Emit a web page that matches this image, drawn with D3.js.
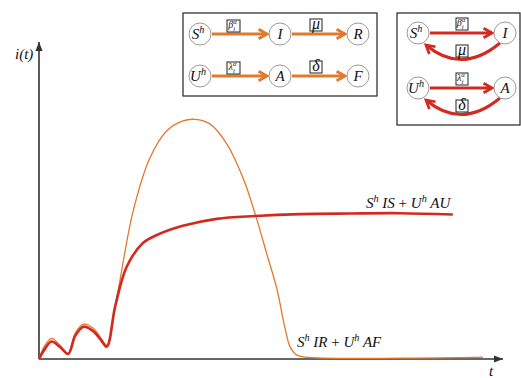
<!DOCTYPE html>
<html>
<head>
<meta charset="utf-8">
<script src="https://cdn.jsdelivr.net/npm/d3@7"></script>
<style>
    body { margin: 0; background: #fff; }
    svg { display: block; }
    text { font-family: "Times New Roman", "Liberation Serif", "DejaVu Serif", serif; font-style: italic; fill: #111; }
</style>
</head>
<body>
<svg id="chart" width="521" height="378"></svg>
<script>
// --- Data (time on x, infected fraction on y, both 0..100) ---
const orangeT = [0, 1.1, 2.7, 4.5, 6.3, 7.8, 9.6, 11.7, 13.2, 14.6, 16.8, 20.3, 23.9, 27.5, 31.0, 33.6, 36.9, 40.5, 44.0, 46.6, 49.1, 51.2, 53.0, 54.1, 55.5, 57.3, 95.7];
const orangeY = [0, 3.8, 6.5, 4.4, 1.8, 8.2, 11.0, 9.7, 6.9, 4.4, 19.7, 46.7, 63.4, 71.9, 75.1, 75.6, 74.1, 67.8, 57.0, 45.7, 33.1, 22.5, 9.9, 3.9, 1.3, 0.6, 0.6];
const redT = [0, 1.1, 2.7, 4.5, 6.3, 7.8, 9.6, 11.7, 13.2, 14.6, 16.4, 18.9, 22.4, 25.4, 31.0, 38.3, 46.6, 56.3, 67.0, 77.8, 89.2];
const redY = [0, 2.8, 5.5, 3.8, 1.6, 7.3, 10.2, 8.8, 6.3, 3.9, 16.5, 29.1, 36.6, 39.1, 42.0, 44.2, 45.1, 45.7, 45.9, 46.0, 45.6];

const curveLabels = ['S^h IS + U^h AU', 'S^h IR + U^h AF'];
const axisLabels = ['i(t)', 't'];

// diagram text
const leftNodes = ['S^h', 'I', 'R', 'U^h', 'A', 'F'];
const leftRates = ['β_i^α', 'μ', 'λ_i^α', 'δ'];
const rightNodes = ['S^h', 'I', 'U^h', 'A'];
const rightRates = ['β_i^α', 'μ', 'λ_i^α', 'δ'];

const ORANGE = '#e4782c', RED = '#d22a20', AXIS = '#333';

const svg = d3.select('#chart');
const x = d3.scaleLinear().domain([0, 100]).range([39, 503]);
const y = d3.scaleLinear().domain([0, 100]).range([359, 42]);

// --- markers ---
const defs = svg.append('defs');
function chevron(id, color) {
    defs.append('marker').attr('id', id)
        .attr('viewBox', '0 0 10 10').attr('refX', 8).attr('refY', 5)
        .attr('markerWidth', 12).attr('markerHeight', 12)
        .attr('markerUnits', 'userSpaceOnUse').attr('orient', 'auto')
        .append('path').attr('d', 'M1,1 L8,5 L1,9')
        .attr('fill', 'none').attr('stroke', color).attr('stroke-width', 2.3);
}
chevron('arr-orange', ORANGE);
chevron('arr-red', RED);
defs.append('marker').attr('id', 'arr-axis')
    .attr('viewBox', '0 0 10 10').attr('refX', 10).attr('refY', 5)
    .attr('markerWidth', 9).attr('markerHeight', 9)
    .attr('markerUnits', 'userSpaceOnUse').attr('orient', 'auto')
    .append('path').attr('d', 'M0,1 L10,5 L0,9 Z').attr('fill', AXIS);

// math-ish text with ^ superscripts and _ subscripts
function mathText(sel, px, py, str, size, anchor) {
    const t = sel.append('text').attr('x', px).attr('y', py)
        .attr('font-size', size).attr('text-anchor', anchor || 'start');
    const re = /([\^_])(\S)|([^\^_]+)/g;
    let m, shift = 0, prevSub = false;
    while ((m = re.exec(str))) {
        let target = 0, fs = size, txt, dx = 0;
        if (m[1]) {
            target = m[1] === '^' ? -0.4 * size : 0.28 * size;
            fs = size * 0.68;
            txt = m[2];
            if (m[1] === '^' && prevSub) dx = -0.3 * fs;
            prevSub = m[1] === '_';
        } else {
            txt = m[3];
            prevSub = false;
        }
        const parts = txt.split(/(\+)/);
        parts.forEach((p, i) => {
            if (!p) return;
            const ts = t.append('tspan').attr('font-size', fs).text(p);
            if (i === 0 || (i === 1 && !parts[0])) ts.attr('dy', target - shift).attr('dx', dx);
            if (p === '+') ts.attr('font-style', 'normal');
        });
        shift = target;
    }
    return t;
}

// --- axes ---
svg.append('g').attr('transform', `translate(0,${y(0)})`)
    .call(d3.axisBottom(x).ticks(0).tickSizeOuter(0))
    .call(g => g.select('.domain').attr('stroke', AXIS).attr('stroke-width', 1.6)
        .attr('d', `M${x(0)},0H${x(100)}`).attr('marker-end', 'url(#arr-axis)'));
svg.append('g').attr('transform', `translate(${x(0)},0)`)
    .call(d3.axisLeft(y).ticks(0).tickSizeOuter(0))
    .call(g => g.select('.domain').attr('stroke', AXIS).attr('stroke-width', 1.6)
        .attr('d', `M0,${y(0)}V${y(100)}`).attr('marker-end', 'url(#arr-axis)'));

svg.append('text').attr('x', 15).attr('y', 59).attr('font-size', 15).text(axisLabels[0]);
svg.append('text').attr('x', 489).attr('y', 376).attr('font-size', 15).text(axisLabels[1]);

// --- curves ---
const line = d3.line().x(d => x(d[0])).y(d => y(d[1])).curve(d3.curveCatmullRom.alpha(0.5));
svg.append('path').datum(orangeT.map((t, i) => [t, orangeY[i]]))
    .attr('d', line).attr('fill', 'none').attr('stroke', ORANGE).attr('stroke-width', 1.3);
svg.append('path').datum(redT.map((t, i) => [t, redY[i]]))
    .attr('d', line).attr('fill', 'none').attr('stroke', RED).attr('stroke-width', 2.6);

mathText(svg, 366, 208, curveLabels[0], 15);
mathText(svg, 297, 347, curveLabels[1], 15);

// --- diagrams ---
function node(g, cx, cy, label) {
    g.append('circle').attr('cx', cx).attr('cy', cy).attr('r', 11)
        .attr('fill', '#fff').attr('stroke', '#9a9a9a').attr('stroke-width', 1);
    const shift = label.includes('^') ? -2 : 0;
    mathText(g, cx + shift, cy + 5, label, 15, 'middle');
}
function rateBox(g, bx, by, w, h, label) {
    g.append('rect').attr('x', bx).attr('y', by).attr('width', w).attr('height', h)
        .attr('fill', '#fff').attr('stroke', '#222').attr('stroke-width', 1);
    const small = label.includes('_');
    mathText(g, bx + w / 2 + (small ? -1 : 0), by + h - (small ? 4 : 2), label, small ? 10 : 16, 'middle');
}

// left box (one-way flows)
const d1 = svg.append('g');
d1.append('rect').attr('x', 183).attr('y', 13).attr('width', 194).attr('height', 83)
    .attr('fill', '#fff').attr('stroke', AXIS).attr('stroke-width', 1.3);
const colX = [200, 280, 358], rowY = [34, 76];
rowY.forEach((ry, r) => {
    for (let c = 0; c < 2; c++) {
        d1.append('line').attr('x1', colX[c] + 12).attr('x2', colX[c + 1] - 13)
            .attr('y1', ry).attr('y2', ry)
            .attr('stroke', ORANGE).attr('stroke-width', 3).attr('marker-end', 'url(#arr-orange)');
    }
    colX.forEach((cx, c) => node(d1, cx, ry, leftNodes[r * 3 + c]));
    rateBox(d1, 227, ry - 14, 13, 12, leftRates[r * 2]);
    rateBox(d1, 310, ry - 15, 12, 12, leftRates[r * 2 + 1]);
});

// right box (with recovery back-flow)
const d2 = svg.append('g');
d2.append('rect').attr('x', 397).attr('y', 13).attr('width', 123).attr('height', 112)
    .attr('fill', '#fff').attr('stroke', AXIS).attr('stroke-width', 1.3);
const rx = [418, 505], ry2 = [33, 88];
ry2.forEach((ry, r) => {
    d2.append('line').attr('x1', rx[0] + 12).attr('x2', rx[1] - 13)
        .attr('y1', ry).attr('y2', ry)
        .attr('stroke', RED).attr('stroke-width', 3).attr('marker-end', 'url(#arr-red)');
    d2.append('path')
        .attr('d', `M${rx[1] - 5},${ry + 10} Q${(rx[0] + rx[1]) / 2},${ry + 42} ${rx[0] + 8},${ry + 12}`)
        .attr('fill', 'none').attr('stroke', RED).attr('stroke-width', 3)
        .attr('marker-end', 'url(#arr-red)');
    rx.forEach((cx, c) => node(d2, cx, ry, rightNodes[r * 2 + c]));
    rateBox(d2, 456, ry - 15, 12, 12, rightRates[r * 2]);
    rateBox(d2, 456, ry + 12, 12, 12, rightRates[r * 2 + 1]);
});
</script>
</body>
</html>
